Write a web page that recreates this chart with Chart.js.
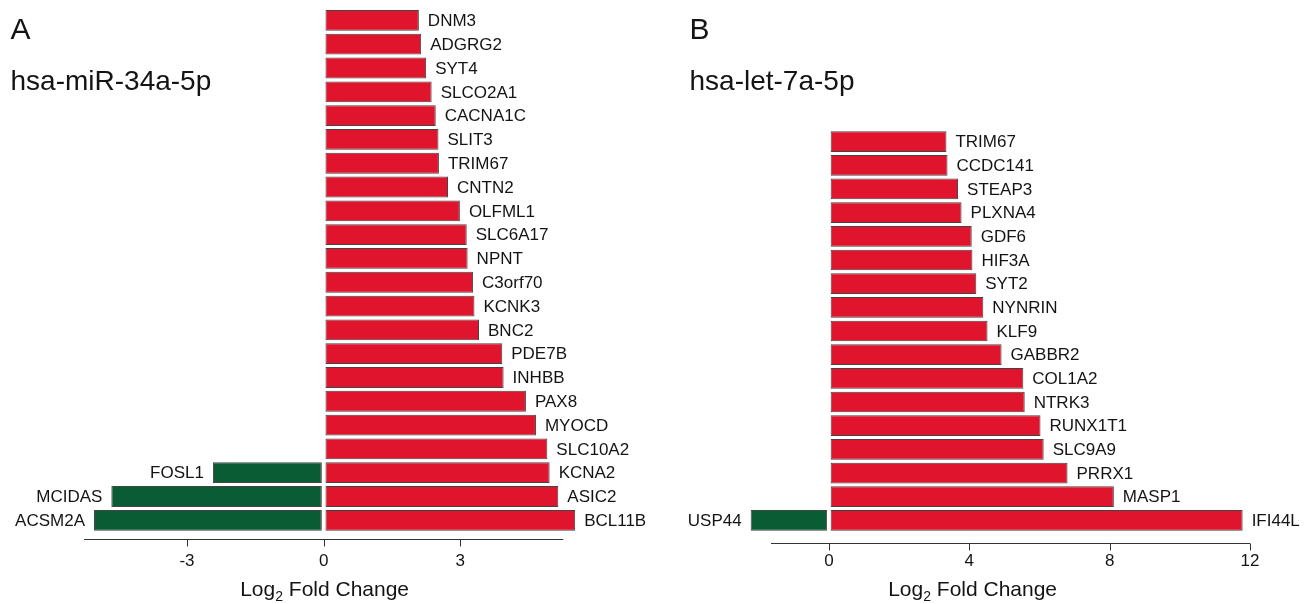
<!DOCTYPE html>
<html>
<head>
<meta charset="utf-8">
<script src="https://cdn.jsdelivr.net/npm/chart.js@4.4.1/dist/chart.umd.min.js"></script>
<style>
  html, body { margin: 0; padding: 0; background: #fff; }
  #wrap { position: relative; width: 1309px; height: 604px; overflow: hidden; }
  canvas { position: absolute; top: 0; }
  #chartA { left: 0; }
  #chartB { left: 654px; }
</style>
</head>
<body>
<div id="wrap">
  <canvas id="chartA" width="654" height="604"></canvas>
  <canvas id="chartB" width="655" height="604"></canvas>
</div>
<script>
// Panel A - hsa-miR-34a-5p (one row per up-regulated gene, top to bottom)
const rowsA = ['DNM3', 'ADGRG2', 'SYT4', 'SLCO2A1', 'CACNA1C', 'SLIT3', 'TRIM67', 'CNTN2',
  'OLFML1', 'SLC6A17', 'NPNT', 'C3orf70', 'KCNK3', 'BNC2', 'PDE7B', 'INHBB', 'PAX8',
  'MYOCD', 'SLC10A2', 'KCNA2', 'ASIC2', 'BCL11B'];
const upA = [2.09, 2.14, 2.25, 2.37, 2.46, 2.52, 2.53, 2.73, 2.99, 3.14, 3.16, 3.28, 3.31,
  3.41, 3.92, 3.95, 4.44, 4.66, 4.91, 4.96, 5.15, 5.52];
const downGenesA = [null, null, null, null, null, null, null, null, null, null, null, null,
  null, null, null, null, null, null, null, 'FOSL1', 'MCIDAS', 'ACSM2A'];
const downA = [null, null, null, null, null, null, null, null, null, null, null, null,
  null, null, null, null, null, null, null, -2.43, -4.66, -5.04];
const ticksA = [-3, 0, 3];

// Panel B - hsa-let-7a-5p
const rowsB = ['TRIM67', 'CCDC141', 'STEAP3', 'PLXNA4', 'GDF6', 'HIF3A', 'SYT2', 'NYNRIN',
  'KLF9', 'GABBR2', 'COL1A2', 'NTRK3', 'RUNX1T1', 'SLC9A9', 'PRRX1', 'MASP1', 'IFI44L'];
const upB = [3.35, 3.38, 3.68, 3.78, 4.07, 4.09, 4.20, 4.40, 4.52, 4.92, 5.54, 5.58, 6.03,
  6.12, 6.80, 8.12, 11.79];
const downGenesB = [null, null, null, null, null, null, null, null, null, null, null, null,
  null, null, null, null, 'USP44'];
const downB = [null, null, null, null, null, null, null, null, null, null, null, null,
  null, null, null, null, -2.23];
const ticksB = [0, 4, 8, 12];

const FONT = '"Liberation Sans", Arial, Helvetica, sans-serif';
const RED = '#e0142c';
const GREEN = '#0a5c34';
const EDGE = '#444';
const INK = '#141414';

// gene names, axis, axis title and panel headings
const decor = {
  id: 'decor',
  afterDatasetsDraw(chart, args, o) {
    const ctx = chart.ctx;
    const x = chart.scales.x;
    const area = chart.chartArea;
    ctx.save();
    ctx.fillStyle = INK;

    ctx.font = '17px ' + FONT;
    ctx.textBaseline = 'middle';
    chart.data.datasets.forEach((ds, i) => {
      chart.getDatasetMeta(i).data.forEach((bar, j) => {
        const name = ds.names[j];
        if (!name || ds.data[j] == null) return;
        const pos = ds.data[j] > 0;
        ctx.textAlign = pos ? 'left' : 'right';
        ctx.fillText(name, bar.x + (pos ? 9 : -9), bar.y + 1);
      });
    });

    // x axis
    const ay = Math.round(area.bottom + o.axisGap) + 0.5;
    ctx.strokeStyle = '#333';
    ctx.lineWidth = 1;
    ctx.beginPath();
    ctx.moveTo(area.left, ay);
    ctx.lineTo(area.right, ay);
    o.ticks.forEach(t => {
      const px = Math.round(x.getPixelForValue(t)) + 0.5;
      ctx.moveTo(px, ay);
      ctx.lineTo(px, ay + 7);
    });
    ctx.stroke();

    ctx.textAlign = 'center';
    ctx.textBaseline = 'alphabetic';
    ctx.font = '17px ' + FONT;
    o.ticks.forEach(t => ctx.fillText(String(t), x.getPixelForValue(t), 566));

    // Log2 Fold Change
    const big = '21px ' + FONT, small = '14px ' + FONT;
    ctx.font = big;
    const w1 = ctx.measureText('Log').width;
    const w3 = ctx.measureText(' Fold Change').width;
    ctx.font = small;
    const w2 = ctx.measureText('2').width;
    let tx = o.titleX - (w1 + w2 + w3) / 2;
    ctx.textAlign = 'left';
    ctx.font = big;
    ctx.fillText('Log', tx, 596);
    ctx.font = small;
    ctx.fillText('2', tx + w1, 601);
    ctx.font = big;
    ctx.fillText(' Fold Change', tx + w1 + w2, 596);

    // headings
    ctx.font = '30px ' + FONT;
    ctx.fillText(o.letter, o.headX, 39);
    ctx.font = '28px ' + FONT;
    ctx.fillText(o.mirna, o.headX, 90);
    ctx.restore();
  }
};

function barSet(values, names, color, base) {
  return {
    data: values,
    names: names,
    backgroundColor: color,
    borderColor: EDGE,
    borderWidth: 1,
    borderSkipped: false,
    barPercentage: 0.875,
    categoryPercentage: 1,
    grouped: false,
    base: base,
    clip: false
  };
}

function makePanel(id, rows, up, downGenes, down, xMin, xMax, gap, padding, deco) {
  return new Chart(document.getElementById(id), {
    type: 'bar',
    data: {
      labels: rows,
      datasets: [
        barSet(up, rows, RED, gap),
        barSet(down, downGenes, GREEN, -gap)
      ]
    },
    options: {
      indexAxis: 'y',
      responsive: false,
      animation: false,
      devicePixelRatio: 1,
      layout: { padding: padding },
      scales: {
        x: { type: 'linear', min: xMin, max: xMax, display: false },
        y: { type: 'category', display: false }
      },
      plugins: {
        legend: { display: false },
        tooltip: { enabled: false },
        decor: deco
      }
    },
    plugins: [decor]
  });
}

makePanel('chartA', rowsA, upA, downGenesA, downA, -5.26, 5.26, 0.04,
  { left: 84, right: 90.7, top: 8.5, bottom: 71.8 },
  { ticks: ticksA, axisGap: 6.5, titleX: 324.6, letter: 'A', mirna: 'hsa-miR-34a-5p', headX: 10.5 });

makePanel('chartB', rowsB, upB, downGenesB, downB, -1.65, 12, 0.05,
  { left: 117, right: 59, top: 129.8, bottom: 71.8 },
  { ticks: ticksB, axisGap: 10.5, titleX: 318.6, letter: 'B', mirna: 'hsa-let-7a-5p', headX: 35.5 });
</script>
</body>
</html>
